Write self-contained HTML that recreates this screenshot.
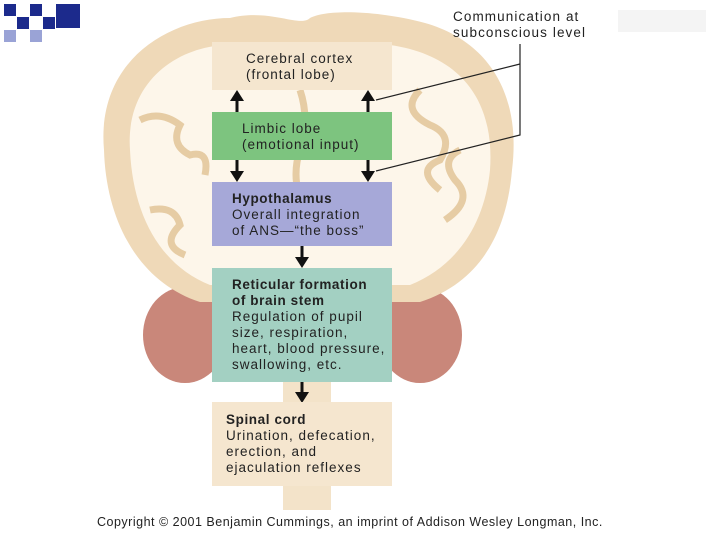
<!DOCTYPE html>
<html><head><style>
body{margin:0;width:720px;height:540px;background:#fff;overflow:hidden;position:relative;font-family:"Liberation Sans",sans-serif;}
.b{position:absolute;left:212px;width:180px;box-sizing:border-box;padding-left:20px;font-size:13.5px;line-height:16px;color:#222;letter-spacing:1px;white-space:nowrap;}
.b b{letter-spacing:0.6px;}
.t{position:absolute;font-size:13.5px;color:#222;line-height:16px;letter-spacing:1.1px;white-space:nowrap;}
</style></head><body>
<svg width="720" height="540" style="position:absolute;left:0;top:0">
<g fill="#1c2a8c">
<rect x="4" y="4" width="12" height="12"/><rect x="30" y="4" width="12" height="12"/><rect x="56" y="4" width="24" height="24"/>
<rect x="17" y="17" width="12" height="12"/><rect x="43" y="17" width="12" height="12"/>
<rect x="4" y="30" width="12" height="12" fill="#9aa3d6"/><rect x="30" y="30" width="12" height="12" fill="#9aa3d6"/>
</g>
<rect x="618" y="10" width="88" height="22" fill="#f4f4f4"/>
<rect x="283" y="370" width="48" height="140" fill="#f3e3c9"/>
<ellipse cx="185" cy="335" rx="42" ry="48" fill="#c9877a"/>
<ellipse cx="420" cy="335" rx="42" ry="48" fill="#c9877a"/>
<path d="M104 150 C96 60 170 18 230 18 C270 8 300 28 310 18 C330 8 385 12 425 23 C485 40 522 90 512 170 C507 230 482 282 420 302 L200 302 C138 282 106 220 104 150Z" fill="#efd9b8"/>
<path d="M130 150 C125 80 180 45 230 45 L390 45 C460 55 495 100 490 170 C485 220 460 265 410 285 L210 285 C160 265 133 215 130 150Z" fill="#fdf6ea"/>
<g fill="none" stroke="#e6cca4" stroke-width="7">
<path d="M140 120 q20 -10 40 5 q-10 20 10 30 q20 -5 15 20"/>
<path d="M150 210 q25 -5 30 15 q-20 20 5 30"/>
<path d="M420 90 q-20 20 10 35 q25 10 10 35 q-25 10 0 30"/>
<path d="M460 150 q-20 10 -5 30 q20 20 -10 40"/>
<path d="M300 90 q10 30 0 60 q-10 30 5 60"/>
</g>
<g stroke="#222" stroke-width="1.2" fill="none">
<polyline points="520,44 520,135 376,171"/>
<line x1="520" y1="64" x2="376" y2="100"/>
</g>
<g fill="#111" stroke="#111" stroke-width="3">
<line x1="237" y1="98" x2="237" y2="112"/><line x1="368" y1="98" x2="368" y2="112"/>
<line x1="237" y1="160" x2="237" y2="173"/><line x1="368" y1="160" x2="368" y2="173"/>
<line x1="302" y1="246" x2="302" y2="259"/><line x1="302" y1="382" x2="302" y2="394"/>
</g>
<g fill="#111">
<polygon points="230,101 244,101 237,90"/><polygon points="361,101 375,101 368,90"/>
<polygon points="230,171 244,171 237,182"/><polygon points="361,171 375,171 368,182"/>
<polygon points="295,257 309,257 302,268"/><polygon points="295,392 309,392 302,403"/>
</g>
</svg>
<div class="b" style="top:42px;height:48px;background:#f5e6cf;padding-left:34px;padding-top:9px;">Cerebral cortex<br>(frontal lobe)</div>
<div class="b" style="top:112px;height:48px;background:#7dc47f;padding-left:30px;padding-top:9px;">Limbic lobe<br>(emotional input)</div>
<div class="b" style="top:182px;height:64px;background:#a6a8d8;padding-top:9px;"><b>Hypothalamus</b><br>Overall integration<br>of ANS—“the boss”</div>
<div class="b" style="top:268px;height:114px;background:#a3d0c2;padding-top:9px;"><b>Reticular formation<br>of brain stem</b><br>Regulation of pupil<br>size, respiration,<br>heart, blood pressure,<br>swallowing, etc.</div>
<div class="b" style="top:402px;height:84px;background:#f5e6cf;padding-left:14px;padding-top:10px;"><b>Spinal cord</b><br>Urination, defecation,<br>erection, and<br>ejaculation reflexes</div>
<div class="t" style="left:453px;top:9px;">Communication at<br>subconscious level</div>
<div class="t" style="left:97px;top:514px;font-size:12.5px;letter-spacing:0.5px;">Copyright © 2001 Benjamin Cummings, an imprint of Addison Wesley Longman, Inc.</div>
</body></html>
